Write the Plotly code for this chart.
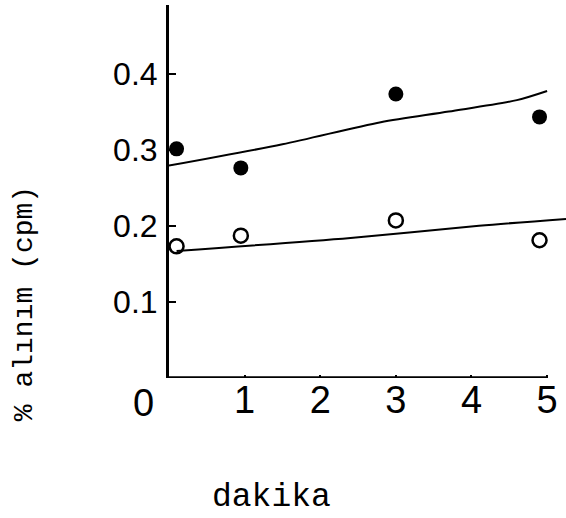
import plotly.graph_objects as go

# Uptake (% of cpm) over time in minutes
minutes = [0.1, 0.95, 3.0, 4.9]
uptake_filled = [0.301, 0.276, 0.373, 0.343]
uptake_open = [0.173, 0.187, 0.207, 0.181]

# Fitted trend curves
fit_filled_x = [0.0, 1.5, 2.8, 3.7, 4.6, 5.0]
fit_filled_y = [0.279, 0.307, 0.336, 0.350, 0.365, 0.377]
fit_open_x = [0.1, 2.4, 4.1, 5.25]
fit_open_y = [0.167, 0.184, 0.200, 0.209]

x_ticks = [1, 2, 3, 4, 5]
y_ticks = [0.1, 0.2, 0.3, 0.4]
y_tick_text = ["0.1", "0.2", "0.3", "0.4"]

NUM_FONT_X = dict(family="Liberation Sans Narrow, Liberation Sans, Arial", size=38, color="black")
NUM_FONT_Y = dict(family="Liberation Sans, Arial", size=32, color="black")
MONO = "Liberation Mono, Courier New, monospace"

fig = go.Figure()

fig.add_trace(go.Scatter(x=fit_filled_x, y=fit_filled_y, mode="lines",
                         line=dict(color="black", width=2, shape="spline", smoothing=0.8),
                         showlegend=False))
fig.add_trace(go.Scatter(x=fit_open_x, y=fit_open_y, mode="lines",
                         line=dict(color="black", width=2, shape="spline", smoothing=0.8),
                         showlegend=False))
fig.add_trace(go.Scatter(x=minutes, y=uptake_filled, mode="markers",
                         marker=dict(symbol="circle", size=15, color="black",
                                     line=dict(width=0)),
                         showlegend=False))
fig.add_trace(go.Scatter(x=minutes, y=uptake_open, mode="markers",
                         marker=dict(symbol="circle-open", size=14, color="black",
                                     line=dict(width=2.5)),
                         showlegend=False))

# x-axis baseline stops at 5 min
fig.add_shape(type="line", xref="x", yref="y", x0=0, x1=5, y0=0, y1=0,
              line=dict(color="black", width=3.5))

# shared origin label
fig.add_annotation(x=0, y=0, xref="x", yref="y", text="0", showarrow=False,
                   font=NUM_FONT_X, xshift=-26, yshift=-25)

# axis titles
fig.add_annotation(x=0, y=0.198, xref="paper", yref="paper", text="% alınım (cpm)",
                   textangle=-90, showarrow=False, xanchor="center", yanchor="middle",
                   xshift=-145, font=dict(family=MONO, size=28, color="black"))
fig.add_annotation(x=0.257, y=0, xref="paper", yref="paper", text="dakika",
                   showarrow=False, xanchor="center", yanchor="middle",
                   yshift=-119, font=dict(family=MONO, size=33, color="black"))

fig.update_xaxes(range=[0, 5.25], tickvals=x_ticks, ticktext=[str(v) for v in x_ticks],
                 ticks="inside", ticklen=3, tickwidth=1.5, tickcolor="black",
                 showline=False, showgrid=False, zeroline=False,
                 tickfont=NUM_FONT_X, ticklabelstandoff=-4)
fig.update_yaxes(range=[0, 0.49], tickvals=y_ticks, ticktext=y_tick_text,
                 ticks="inside", ticklen=7, tickwidth=2, tickcolor="black",
                 showline=True, linecolor="black", linewidth=3,
                 showgrid=False, zeroline=False,
                 tickfont=NUM_FONT_Y, ticklabelstandoff=2)

fig.update_layout(width=566, height=518,
                  margin=dict(l=169, r=0, t=5, b=140),
                  paper_bgcolor="white", plot_bgcolor="white",
                  showlegend=False)

fig.write_html("out.html")
